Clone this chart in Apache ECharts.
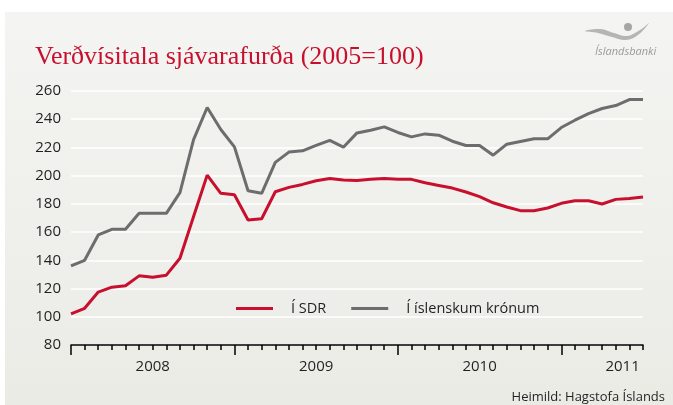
<!DOCTYPE html>
<html><head><meta charset="utf-8">
<script src="https://cdn.jsdelivr.net/npm/echarts@6/dist/echarts.min.js"></script>
<style>html,body{margin:0;padding:0;background:#fff;}#c{width:673px;height:405px;}</style>
</head><body><div id="c"></div>
<script>
// Monthly index values, 43 months (start of 2008 .. mid 2011 on the axis)
var months = [];
for (var m = 0; m < 43; m++) months.push(String(m));
var sdrValues = [102, 106, 117.5, 121, 122, 129, 128, 129.5, 141.5, 171, 200.4, 187.5, 186.5, 168.6, 169.5, 188.6, 191.7, 193.8, 196.4, 198, 197, 196.5, 197.5, 198, 197.4, 197.4, 195, 193.1, 191.2, 188.4, 185.1, 180.8, 177.8, 175.2, 175.2, 177.1, 180.4, 182.2, 182.2, 179.9, 183.2, 183.9, 184.8];
var iskValues = [136, 140, 158, 162, 162, 173.3, 173.3, 173.3, 188, 225.6, 248.3, 232.7, 220.4, 189.3, 187.5, 209.4, 216.7, 217.6, 221.4, 225, 220.2, 230.3, 232.2, 234.6, 230.6, 227.5, 229.6, 228.7, 224.4, 221.4, 221.4, 214.5, 222.3, 224.2, 226.1, 226.1, 234.1, 239.3, 244, 247.6, 249.7, 253.9, 253.9];
var yearLabels = {6: '2008', 18: '2009', 30: '2010', 40.5: '2011'};
var seriesNames = ['Í SDR', 'Í íslenskum krónum'];
var titleText = 'Verðvísitala sjávarafurða (2005=100)';
var sourceText = 'Heimild: Hagstofa Íslands';

var sans = '"Open Sans", "Noto Sans", sans-serif';
var chart = echarts.init(document.getElementById('c'), null, {renderer: 'canvas'});
chart.setOption({
  animation: false,
  backgroundColor: '#ffffff',
  graphic: [
    {type: 'rect', z: -10, silent: true, shape: {x: 5, y: 12, width: 668, height: 393},
     style: {fill: {type: 'linear', x: 0, y: 0, x2: 0, y2: 1, colorStops: [{offset: 0, color: '#f4f4f2'}, {offset: 1, color: '#ebebe6'}]}}},
    {type: 'circle', shape: {cx: 628, cy: 27, r: 4}, style: {fill: '#a6a6a6'}},
    {type: 'polygon', shape: {smooth: 0.4, points: [[585, 31], [600, 29], [614, 33], [627, 36], [640, 30], [649, 23], [638, 35], [626, 40], [612, 37], [598, 33]]}, style: {fill: '#b5b5b5'}},
    {type: 'text', style: {x: 595, y: 46, text: 'Íslandsbanki', fill: '#9a9a9a', font: 'italic 11px ' + sans}}
  ],
  title: [
    {text: titleText, left: 30, top: 39, textStyle: {color: '#c8102e', fontFamily: '"Liberation Serif", serif', fontWeight: 'normal', fontSize: 26}},
    {text: sourceText, right: 3, top: 386, textStyle: {color: '#231f20', fontFamily: sans, fontWeight: 'normal', fontSize: 13}}
  ],
  legend: {
    left: 231, top: 296, itemWidth: 37, itemHeight: 3, itemGap: 25, icon: 'rect',
    textStyle: {color: '#231f20', fontFamily: sans, fontSize: 14.5, padding: [0, 0, 0, 13]},
    data: seriesNames
  },
  grid: {left: 71, right: 30, top: 91, bottom: 60},
  xAxis: [
    {type: 'category', data: months, boundaryGap: false,
     axisLine: {lineStyle: {color: '#000', width: 1.5}},
     axisTick: {interval: 0, length: 5, lineStyle: {color: '#000', width: 1.5}},
     axisLabel: {show: false}, splitLine: {show: false}},
    {type: 'category', data: months, boundaryGap: false, position: 'bottom',
     axisLine: {show: false},
     axisTick: {interval: function (i) { return i % 12 === 0; }, length: 10, lineStyle: {color: '#000', width: 1.5}},
     axisLabel: {show: false}, splitLine: {show: false}},
    {type: 'value', min: 0, max: 42, interval: 1.5, position: 'bottom',
     axisLine: {show: false}, axisTick: {show: false}, splitLine: {show: false},
     axisLabel: {margin: 14, color: '#231f20', fontFamily: sans, fontSize: 15,
       formatter: function (v) { return yearLabels[v] || ''; }}}
  ],
  yAxis: {
    type: 'value', min: 80, max: 260, interval: 20,
    axisLine: {show: false}, axisTick: {show: false},
    axisLabel: {margin: 10, color: '#231f20', fontFamily: sans, fontSize: 15},
    splitLine: {lineStyle: {color: '#ffffff', width: 1.5}}
  },
  series: [
    {name: seriesNames[0], type: 'line', data: sdrValues, showSymbol: false, z: 3,
     lineStyle: {color: '#c8102e', width: 3}, itemStyle: {color: '#c8102e'}},
    {name: seriesNames[1], type: 'line', data: iskValues, showSymbol: false, z: 2,
     lineStyle: {color: '#6d6d6d', width: 3}, itemStyle: {color: '#6d6d6d'}}
  ]
});
</script></body></html>
